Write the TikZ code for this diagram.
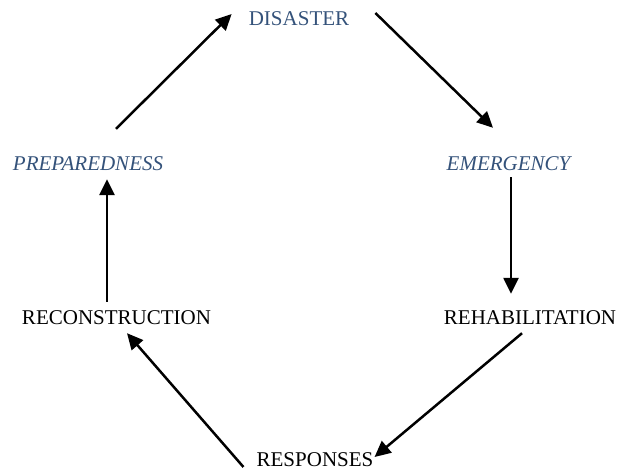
\documentclass[tikz,border=0pt]{standalone}
\usepackage{fontspec}
\setmainfont{Liberation Serif}
\usetikzlibrary{arrows.meta}
\definecolor{stagecol}{RGB}{52,82,122}
\tikzset{x = 1pt, y = -1pt,
         >= {Triangle[length = 16pt, width = 15pt]},
         every node/.style = {inner sep = 0pt, text height = 14pt, text depth = 0pt,
                              font = \fontsize{21}{25}\selectfont},
         phase/.style = {text = stagecol},
         cyc/.style = {->, line width = 2.5pt}}

\begin{document}
\begin{tikzpicture}
        \useasboundingbox (0,0) rectangle (620,470);

        \node[phase]           (dis)   at (299,19)   {DISASTER};
        \node[phase, font = \fontsize{21}{25}\selectfont\itshape] (emer)  at (508.5,164) {EMERGENCY};
        \node                  (rehab) at (530,317)  {REHABILITATION};
        \node                  (resp)  at (315,459)  {RESPONSES};
        \node                  (recon) at (116.5,317) {RECONSTRUCTION};
        \node[phase, font = \fontsize{21}{25}\selectfont\itshape] (prep)  at (88,164)   {PREPAREDNESS};

        \draw[cyc] ([shift = {(28,-28)}]prep.north)  -- ([shift = {(-17,-5)}]dis.west);
        \draw[cyc] ([shift = {(26,-6)}]dis.east)     -- ([shift = {(-15.5,-29)}]emer.north);
        \draw[cyc] ([shift = {(2.5,6)}]emer.south)   -- ([shift = {(-19,-16)}]rehab.north);
        \draw[cyc] ([shift = {(-8,9)}]rehab.south)   -- ([shift = {(1,-2)}]resp.east);
        \draw[cyc] ([shift = {(-13,8)}]resp.west)    -- ([shift = {(10.5,9)}]recon.south);
        \draw[cyc] ([shift = {(-9.5,-8)}]recon.north) -- ([shift = {(19,8)}]prep.south);
\end{tikzpicture}
\end{document}
